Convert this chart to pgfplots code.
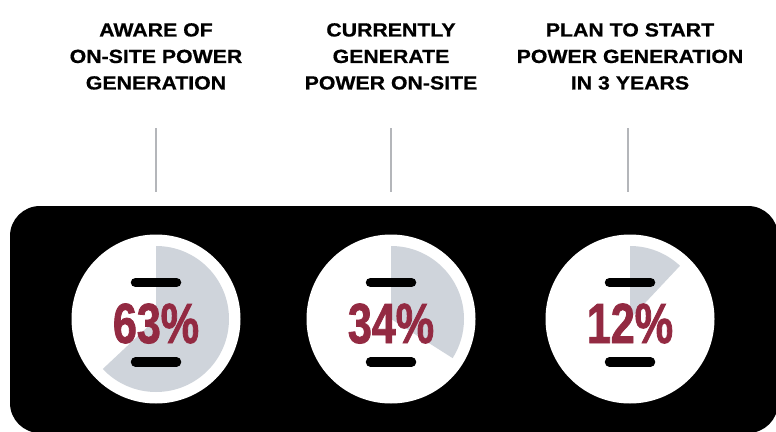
\documentclass[border=0pt]{standalone}
\usepackage{pgfplots}
\pgfplotsset{compat=1.18}
\usepackage{pgfplotstable}
\usepackage{fontspec}
\newfontfamily\headfont[FakeStretch=1.12, FakeBold=0.7]{Liberation Sans}
\newfontfamily\numfont[FakeStretch=0.76, FakeBold=1.4]{Liberation Sans}

\definecolor{maroon}{HTML}{932A42}
\definecolor{wedge}{HTML}{CFD4DB}
\definecolor{stem}{HTML}{B4B6BA}

% share of respondents (percent), circle centre x in pixels
\pgfplotstableread{
x   y    v
156 343 63
391 343 34
630 343 12
}\pcttable

\begin{document}
\begin{tikzpicture}
\pgfplotstablegetelem{0}{v}\of\pcttable \let\vA\pgfplotsretval
\pgfplotstablegetelem{1}{v}\of\pcttable \let\vB\pgfplotsretval
\pgfplotstablegetelem{2}{v}\of\pcttable \let\vC\pgfplotsretval
\begin{axis}[
    name=ax,
    scale only axis,
    width=776pt, height=431pt,
    xmin=0, xmax=776, ymin=0, ymax=431,
    y dir=reverse,
    hide axis,
    clip=true,
]
% black panel
\fill[black, rounded corners=30pt] (axis cs:10,206) rectangle (axis cs:778,433);

% headers and stems
\foreach \cx/\txt in {156/{AWARE OF\\ON-SITE POWER\\GENERATION},
                      391/{CURRENTLY\\GENERATE\\POWER ON-SITE},
                      630/{PLAN TO START\\POWER GENERATION\\IN 3 YEARS}}{
  \edef\temp{\noexpand\node[anchor=north, inner sep=0pt, align=center,
      font=\noexpand\headfont\noexpand\bfseries\noexpand\fontsize{19}{26.5}\noexpand\selectfont]
      at (axis cs:\cx,23) {\unexpanded\expandafter{\txt}};}
  \temp
}
\draw[stem, line width=2pt] (axis cs:156,128) -- (axis cs:156,192);
\draw[stem, line width=2pt] (axis cs:391,128) -- (axis cs:391,192);
\draw[stem, line width=2pt] (axis cs:628,128) -- (axis cs:628,192);

% white discs
\fill[white] (axis cs:156,319) circle[radius=84.5pt];
\fill[white] (axis cs:391,319) circle[radius=84.5pt];
\fill[white] (axis cs:630,319) circle[radius=84.5pt];

% wedges, clockwise from 12 o'clock
\fill[wedge] (axis cs:156,319) -- (axis cs:156,246) arc[start angle=90, end angle={90-3.6*\vA}, radius=73pt] -- cycle;
\fill[wedge] (axis cs:391,319) -- (axis cs:391,246) arc[start angle=90, end angle={90-3.6*\vB}, radius=73pt] -- cycle;
\fill[wedge] (axis cs:630,319) -- (axis cs:630,246) arc[start angle=90, end angle={90-3.6*\vC}, radius=73pt] -- cycle;

% black bars
\draw[black, line width=9.5pt, line cap=round] (axis cs:135.5,282.5) -- (axis cs:176.5,282.5);
\draw[black, line width=9.5pt, line cap=round] (axis cs:135.5,362) -- (axis cs:176.5,362);
\draw[black, line width=9.5pt, line cap=round] (axis cs:370.5,282.5) -- (axis cs:411.5,282.5);
\draw[black, line width=9.5pt, line cap=round] (axis cs:370.5,362) -- (axis cs:411.5,362);
\draw[black, line width=9.5pt, line cap=round] (axis cs:609.5,282.5) -- (axis cs:650.5,282.5);
\draw[black, line width=9.5pt, line cap=round] (axis cs:609.5,362) -- (axis cs:650.5,362);

% percentages
\addplot[only marks, mark=none, point meta=explicit,
    nodes near coords={\pgfmathprintnumber[assume math mode=true]{\pgfplotspointmeta}\%},
    every node near coord/.style={anchor=base, inner sep=0pt, text=maroon,
        font=\numfont\bfseries\fontsize{56.6}{60}\selectfont}]
    table[x=x, y=y, meta=v] {\pcttable};
\end{axis}
\pgfresetboundingbox
\path[use as bounding box] (ax.south west) rectangle (ax.north east);
\end{tikzpicture}
\end{document}
